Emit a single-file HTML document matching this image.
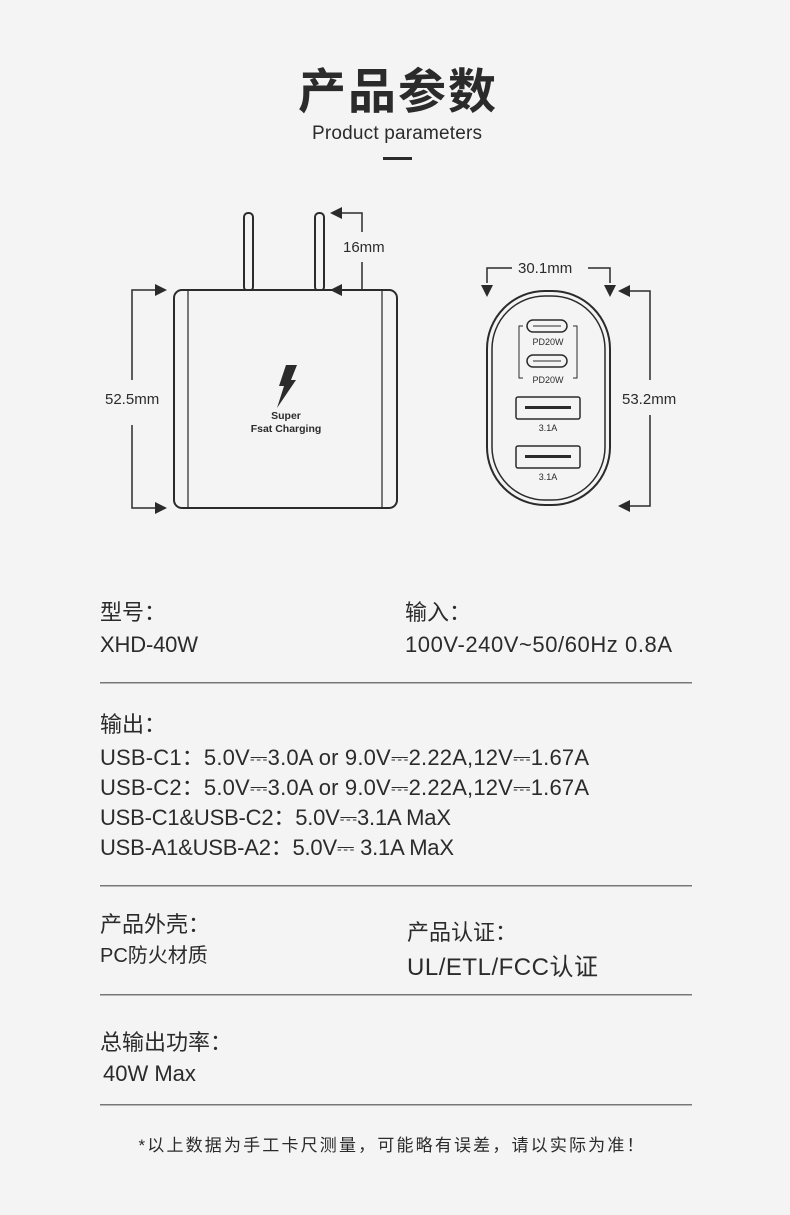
<!DOCTYPE html>
<html><head><meta charset="utf-8"><style>
html,body{margin:0;padding:0;background:#f4f4f4;}
svg{display:block}
text{font-family:"Liberation Sans","Noto Sans CJK SC",sans-serif;fill:#2b2b2b}
</style></head><body>
<svg width="790" height="1215" viewBox="0 0 790 1215" xmlns="http://www.w3.org/2000/svg">
<rect width="790" height="1215" fill="#f4f4f4"/>
<text x="397" y="108" font-size="48" font-weight="bold" text-anchor="middle" textLength="198" fill="#2b2b2b">产品参数</text>
<text x="397" y="139" font-size="19" text-anchor="middle" textLength="170">Product parameters</text>
<rect x="383" y="157" width="29" height="3" fill="#2b2b2b"/>

<g stroke="#2b2b2b" fill="none" stroke-width="2">
<rect x="244" y="213" width="9" height="78" rx="4" fill="#f4f4f4"/>
<rect x="315" y="213" width="9" height="78" rx="4" fill="#f4f4f4"/>
<rect x="174" y="290" width="223" height="218" rx="8" fill="#f4f4f4"/>
<line x1="188" y1="291" x2="188" y2="507" stroke="#777"/>
<line x1="382" y1="291" x2="382" y2="507" stroke="#777"/>
<polyline points="338,213 362,213 362,232" stroke-width="1.5"/>
<polyline points="338,290 362,290 362,262" stroke-width="1.5"/>
<polyline points="160,290 132,290 132,380" stroke-width="1.5"/>
<polyline points="160,508 132,508 132,425" stroke-width="1.5"/>
</g>
<g fill="#2b2b2b">
<polygon points="330,213 342,207 342,219"/>
<polygon points="330,290 342,284 342,296"/>
<polygon points="167,290 155,284 155,296"/>
<polygon points="167,508 155,502 155,514"/>
<polygon points="286,365 297,365 291,380 296,380 277,408 284,386 279,386"/>
</g>
<text x="343" y="252" font-size="15">16mm</text>
<text x="105" y="404" font-size="15">52.5mm</text>
<text x="286" y="419" font-size="10.5" font-weight="bold" text-anchor="middle">Super</text>
<text x="286" y="432" font-size="10.5" font-weight="bold" text-anchor="middle">Fsat Charging</text>

<g stroke="#2b2b2b" fill="none" stroke-width="2">
<rect x="487" y="291" width="123" height="214" rx="58" fill="#f4f4f4"/>
<rect x="492" y="296" width="113" height="204" rx="53" stroke-width="1.5"/>
<rect x="527" y="320" width="40" height="12" rx="6" stroke-width="1.5"/>
<rect x="527" y="355" width="40" height="12" rx="6" stroke-width="1.5"/>
<line x1="533" y1="326" x2="561" y2="326" stroke-width="1"/>
<line x1="533" y1="361" x2="561" y2="361" stroke-width="1"/>
<polyline points="523,326 519,326 519,378 523,378" stroke-width="1"/>
<polyline points="573,326 577,326 577,378 573,378" stroke-width="1"/>
<rect x="516" y="397" width="64" height="22" rx="2" stroke-width="1.5"/>
<rect x="516" y="446" width="64" height="22" rx="2" stroke-width="1.5"/>
<polyline points="487,283 487,268 512,268" stroke-width="1.5"/>
<polyline points="610,283 610,268 588,268" stroke-width="1.5"/>
<polyline points="625,291 650,291 650,380" stroke-width="1.5"/>
<polyline points="625,506 650,506 650,415" stroke-width="1.5"/>
</g>
<g fill="#2b2b2b">
<rect x="525" y="406" width="46" height="3"/>
<rect x="525" y="455" width="46" height="3"/>
<polygon points="487,297 481,285 493,285"/>
<polygon points="610,297 604,285 616,285"/>
<polygon points="618,291 630,285 630,297"/>
<polygon points="618,506 630,500 630,512"/>
</g>
<text x="548" y="345" font-size="9" text-anchor="middle">PD20W</text>
<text x="548" y="383" font-size="9" text-anchor="middle">PD20W</text>
<text x="548" y="431" font-size="9" text-anchor="middle">3.1A</text>
<text x="548" y="480" font-size="9" text-anchor="middle">3.1A</text>
<text x="518" y="273" font-size="15">30.1mm</text>
<text x="622" y="404" font-size="15">53.2mm</text>

<g font-size="22">
<text x="100" y="620">型号：</text>
<text x="100" y="652" textLength="98">XHD-40W</text>
<text x="405" y="620">输入：</text>
<text x="405" y="652" textLength="267">100V-240V~50/60Hz  0.8A</text>
<text x="100" y="732">输出：</text>
<text x="100" y="765" textLength="489">USB-C1：5.0V⎓3.0A or 9.0V⎓2.22A,12V⎓1.67A</text>
<text x="100" y="795" textLength="489">USB-C2：5.0V⎓3.0A or 9.0V⎓2.22A,12V⎓1.67A</text>
<text x="100" y="825" textLength="351">USB-C1&amp;USB-C2：5.0V⎓3.1A MaX</text>
<text x="100" y="855" textLength="354">USB-A1&amp;USB-A2：5.0V⎓ 3.1A MaX</text>
<text x="100" y="932">产品外壳：</text>
<text x="100" y="962" font-size="20">PC防火材质</text>
<text x="407" y="940">产品认证：</text>
<text x="407" y="975" font-size="24" textLength="191">UL/ETL/FCC认证</text>
<text x="100" y="1050">总输出功率：</text>
<text x="103" y="1081">40W  Max</text>
</g>
<g fill="#777">
<rect x="100" y="682" width="592" height="1.5"/>
<rect x="100" y="885" width="592" height="1.5"/>
<rect x="100" y="994" width="592" height="1.5"/>
<rect x="100" y="1104" width="592" height="1.5"/>
</g>
<text x="391" y="1151" font-size="17" text-anchor="middle" fill="#777" textLength="505">*以上数据为手工卡尺测量，可能略有误差，请以实际为准！</text>
</svg>
</body></html>
